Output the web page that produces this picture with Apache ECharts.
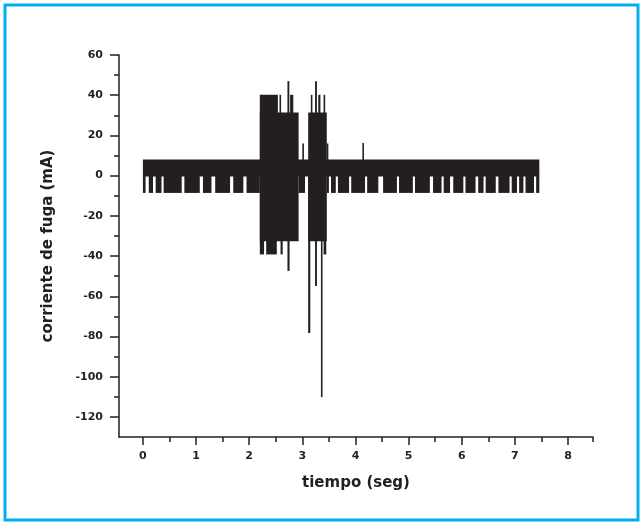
<!DOCTYPE html>
<html>
<head>
<meta charset="utf-8">
<script src="https://cdn.jsdelivr.net/npm/echarts@6/dist/echarts.min.js"></script>
<style>
  html, body { margin: 0; padding: 0; background: #fff; }
  #chart { width: 641px; height: 523px; }
</style>
</head>
<body>
<div id="chart"></div>
<script>
// tick values
var xMajor = [0, 1, 2, 3, 4, 5, 6, 7, 8];
var xMinor = [0.5, 1.5, 2.5, 3.5, 4.5, 5.5, 6.5, 7.5, 8.47];
var yMajor = [-120, -100, -80, -60, -40, -20, 0, 20, 40, 60];
var yMinor = [-110, -90, -70, -50, -30, -10, 10, 30, 50];

// signal, as [t start, t end, top mA, bottom mA]
// solid part of the base band
var bandRows = [
  [0.00, 7.46, 8, -0.4]
];
// base band swings down to about -8.6, these are the dark stretches between the white gaps
var baseBars = [
  [0.00, 0.05], [0.11, 0.19], [0.24, 0.35], [0.39, 0.73], [0.78, 1.07],
  [1.13, 1.29], [1.36, 1.64], [1.70, 1.89], [1.95, 2.20], [2.93, 3.05],
  [3.46, 3.50], [3.54, 3.63], [3.67, 3.88], [3.92, 4.18], [4.22, 4.43],
  [4.52, 4.78], [4.82, 5.08], [5.12, 5.40], [5.46, 5.62], [5.66, 5.78],
  [5.84, 6.03], [6.07, 6.26], [6.31, 6.41], [6.45, 6.64], [6.69, 6.90],
  [6.94, 7.04], [7.08, 7.16], [7.20, 7.36], [7.40, 7.46]
];
var baseLow = -8.6;
// first burst (about 2.2 - 2.9 s)
var burst1Rows = [
  [2.20, 2.93, 31.4, -32.6],
  [2.20, 2.54, 40.2, 0],
  [2.57, 2.60, 40.2, 0],
  [2.72, 2.755, 47.0, 0],
  [2.77, 2.83, 40.2, 0],
  [2.20, 2.28, 0, -39.2],
  [2.32, 2.52, 0, -39.2],
  [2.59, 2.63, 0, -39.2],
  [2.72, 2.76, 0, -47.4]
];
// second burst (about 3.1 - 3.45 s)
var burst2Rows = [
  [3.11, 3.46, 31.4, -32.6],
  [3.16, 3.19, 40.2, 0],
  [3.24, 3.275, 47.0, 0],
  [3.30, 3.34, 40.2, 0],
  [3.40, 3.43, 40.2, 0],
  [3.11, 3.15, 0, -78.3],
  [3.24, 3.275, 0, -54.9],
  [3.35, 3.38, 0, -110.2],
  [3.40, 3.45, 0, -39.2]
];
// lone spikes
var spikeRows = [
  [3.00, 3.03, 16, 0],
  [3.46, 3.49, 16, 0],
  [4.13, 4.16, 16.2, 0]
];

var rows = [];
bandRows.forEach(function (r) { rows.push(r); });
baseBars.forEach(function (b) { rows.push([b[0], b[1], 0, baseLow]); });
burst1Rows.forEach(function (r) { rows.push(r); });
burst2Rows.forEach(function (r) { rows.push(r); });
spikeRows.forEach(function (r) { rows.push(r); });

var ink = '#231f20';
var font = 'DejaVu Sans';

var chart = echarts.init(document.getElementById('chart'), null, { renderer: 'canvas' });

chart.setOption({
  animation: false,
  grid: { left: 119, right: 48, top: 55, bottom: 86, containLabel: false },
  graphic: [
    {
      type: 'rect',
      shape: { x: 5, y: 5, width: 633, height: 515 },
      style: { fill: 'none', stroke: '#00aeef', lineWidth: 3 },
      silent: true
    }
  ],
  xAxis: [
    {
      type: 'value',
      min: -0.45,
      max: 8.47,
      position: 'bottom',
      name: 'tiempo (seg)',
      nameLocation: 'middle',
      nameGap: 39,
      nameTextStyle: { color: ink, fontFamily: font, fontWeight: 'bold', fontSize: 15 },
      axisLine: { onZero: false, lineStyle: { color: ink, width: 1.5 } },
      axisTick: { customValues: xMajor, length: 8, lineStyle: { color: ink, width: 1.5 } },
      axisLabel: { customValues: xMajor, margin: 14, color: ink, fontFamily: font, fontWeight: 'bold', fontSize: 11 },
      splitLine: { show: false }
    },
    {
      type: 'value',
      min: -0.45,
      max: 8.47,
      position: 'bottom',
      axisLine: { show: false, onZero: false },
      axisTick: { customValues: xMinor, length: 5, lineStyle: { color: ink, width: 1.5 } },
      axisLabel: { show: false },
      splitLine: { show: false }
    }
  ],
  yAxis: [
    {
      type: 'value',
      min: -130,
      max: 60,
      position: 'left',
      name: 'corriente de fuga (mA)',
      nameLocation: 'middle',
      nameGap: 63,
      nameTextStyle: { color: ink, fontFamily: font, fontWeight: 'bold', fontSize: 15 },
      axisLine: { onZero: false, lineStyle: { color: ink, width: 1.5 } },
      axisTick: { customValues: yMajor, length: 9, lineStyle: { color: ink, width: 1.5 } },
      axisLabel: { customValues: yMajor, margin: 16, color: ink, fontFamily: font, fontWeight: 'bold', fontSize: 11 },
      splitLine: { show: false }
    },
    {
      type: 'value',
      min: -130,
      max: 60,
      position: 'left',
      axisLine: { show: false, onZero: false },
      axisTick: { customValues: yMinor, length: 5, lineStyle: { color: ink, width: 1.5 } },
      axisLabel: { show: false },
      splitLine: { show: false }
    }
  ],
  series: [
    {
      type: 'custom',
      xAxisIndex: 0,
      yAxisIndex: 0,
      encode: { x: [0, 1], y: [2, 3] },
      data: rows,
      renderItem: function (params, api) {
        var p0 = api.coord([api.value(0), api.value(2)]);
        var p1 = api.coord([api.value(1), api.value(3)]);
        return {
          type: 'rect',
          shape: {
            x: p0[0],
            y: p0[1],
            width: Math.max(p1[0] - p0[0], 1.5),
            height: p1[1] - p0[1]
          },
          style: { fill: ink }
        };
      }
    }
  ]
});
</script>
</body>
</html>
